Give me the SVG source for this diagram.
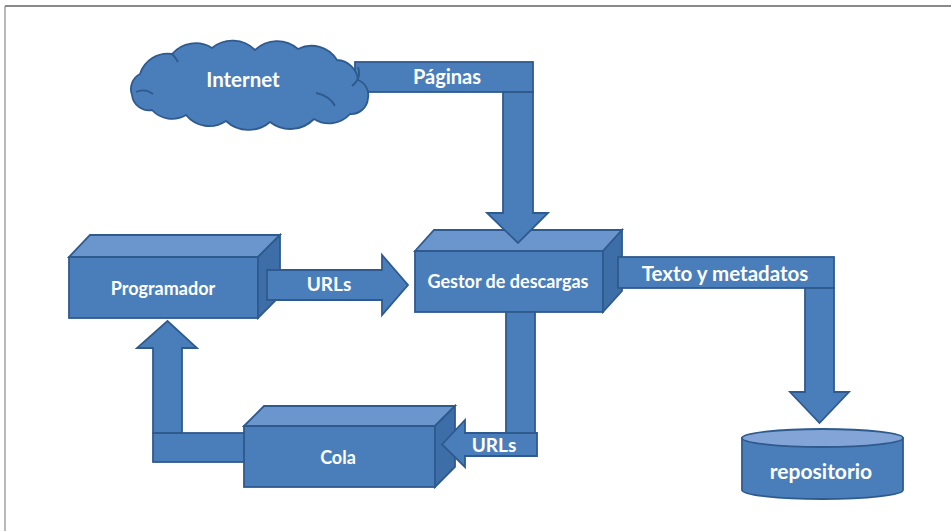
<svg xmlns="http://www.w3.org/2000/svg" width="951" height="531" viewBox="0 0 951 531">
<style>
.f{fill:#4A7EBB;stroke:#2F5A8E;stroke-width:1.8;stroke-linejoin:miter}
.t{fill:#6B96CD;stroke:#2F5A8E;stroke-width:1.8}
.s{fill:#3E6EA8;stroke:#2F5A8E;stroke-width:1.8}
.c{fill:#82A4D6;stroke:#2F5A8E;stroke-width:1.8}
.in{fill:none;stroke:#2F5A8E;stroke-width:1.8}
text{font-family:Lato,"Open Sans","Liberation Sans",sans-serif;font-weight:700;fill:#FFFFFF;text-anchor:middle}
.frame{stroke:#8A8A8A;fill:none}
</style>
<rect x="0" y="0" width="951" height="531" fill="#FFFFFF"/>
<line class="frame" x1="5" y1="6" x2="951" y2="6" stroke-width="2"/>
<line class="frame" x1="5" y1="6" x2="5" y2="531" stroke-width="1.2"/>

<g id="programador">
<rect class="f" x="69" y="257" width="189" height="61"/>
<polygon class="t" points="69,257 90,235 280,235 258,257"/>
<polygon class="s" points="258,257 280,235 280,296 258,318"/>
<text x="163" y="295" font-size="18">Programador</text>
</g>

<g id="gestor">
<rect class="f" x="415" y="251" width="188" height="61"/>
<polygon class="t" points="415,251 434,230 622,230 603,251"/>
<polygon class="s" points="603,251 622,230 622,291 603,312"/>
<text x="508" y="288" font-size="18">Gestor de descargas</text>
</g>

<g id="cola">
<rect class="f" x="244" y="426" width="191" height="61"/>
<polygon class="t" points="244,426 264,406 455,406 435,426"/>
<polygon class="s" points="435,426 455,406 455,467 435,487"/>
<text x="338" y="464" font-size="18">Cola</text>
</g>

<g id="connectors">
<g id="paginas">
<rect class="f" x="355" y="62" width="178" height="30"/>
<polygon class="f" points="503,92 533,92 533,213 548,213 518,243 487,213 503,213"/>
<text x="447" y="84" font-size="20">Páginas</text>
</g>
<g id="urls-prog-gestor">
<polygon class="f" points="267,270 382,270 382,255 408,285 382,315 382,300 267,300"/>
<text x="329" y="291" font-size="19">URLs</text>
</g>
<g id="texto-metadatos">
<rect class="f" x="618" y="257" width="216" height="31"/>
<polygon class="f" points="805,288 834,288 834,392 849,392 819.5,423 790,392 805,392"/>
<text x="725" y="281" font-size="20.5">Texto y metadatos</text>
</g>
<g id="urls-gestor-cola">
<rect class="f" x="506" y="312" width="29" height="121"/>
<polygon class="f" points="537,433 537,456 465,456 465,467 442,444.5 465,420 465,433"/>
<text x="494" y="452" font-size="19">URLs</text>
</g>
<g id="cola-prog">
<rect class="f" x="153" y="433" width="91" height="29"/>
<polygon class="f" points="153,433 153,348 137,348 167.5,321 197,348 182,348 182,433"/>
</g>
</g>

<g id="internet">
<path class="f" d="M140,74 A29 29 0 0 1 172,54 A31 31 0 0 1 212,48 A32 32 0 0 1 255,50 A32 32 0 0 1 298,49 A30 30 0 0 1 337,60 A22 22 0 0 1 358,80 A16 16 0 0 1 368,98 A17 17 0 0 1 350,114 A28 28 0 0 1 314,119 A33 33 0 0 1 270,122 A33 33 0 0 1 226,121 A30 30 0 0 1 186,115 A27 27 0 0 1 152,110 A17 17 0 0 1 132,95 A17 17 0 0 1 140,74 Z"/>
<path class="in" d="M136,92 Q145,88 153,94"/>
<path class="in" d="M316,93 Q330,96 335,106"/>
<path class="in" d="M352,86 Q362,78 358,67"/>
<path class="in" d="M172,54 Q176,58 178,62"/>
<text x="243" y="87" font-size="20.5">Internet</text>
</g>

<g id="repositorio">
<path class="f" d="M742,438 V490 A80.5,9 0 0 0 903,490 V438 Z"/>
<ellipse class="c" cx="822.5" cy="438" rx="80.5" ry="9"/>
<text x="821" y="479" font-size="21">repositorio</text>
</g>
</svg>
